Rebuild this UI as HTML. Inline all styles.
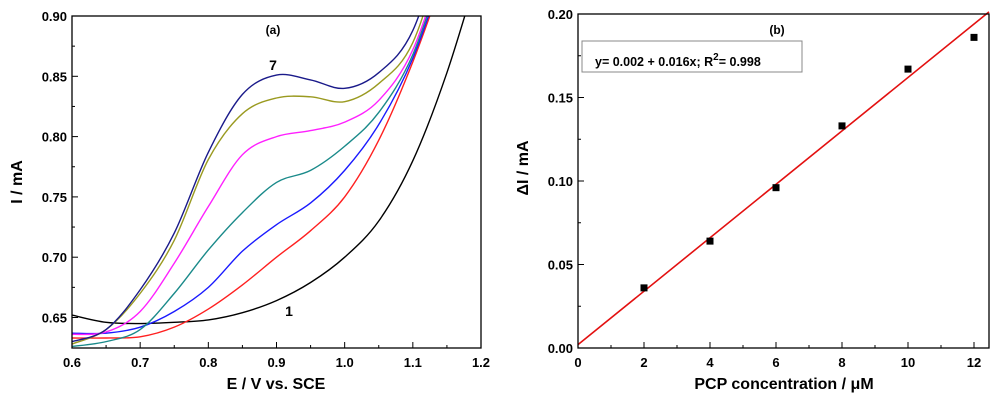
<!DOCTYPE html>
<html><head><meta charset="utf-8"><style>
body{margin:0;background:#fff}
svg{display:block;font-family:"Liberation Sans",Arial,sans-serif;font-weight:bold}
</style></head><body>
<svg id="chart" width="1000" height="404" viewBox="0 0 1000 404">
<g id="pa"></g>
<g id="pb"></g>
</svg>
<script>
// Panel A data
const aX = [0.6,0.65,0.7,0.75,0.8,0.85,0.9,0.95,1.0,1.05,1.1,1.15,1.2];
const curve1 = [0.652,0.646,0.645,0.646,0.648,0.654,0.664,0.679,0.700,0.730,0.780,0.853,0.945];
const curve2 = [0.633,0.633,0.634,0.642,0.657,0.677,0.700,0.722,0.750,0.797,0.862,0.94,1.02];
const curve3 = [0.637,0.637,0.642,0.655,0.675,0.705,0.727,0.745,0.772,0.81,0.865,0.945,1.03];
const curve4 = [0.626,0.630,0.640,0.670,0.706,0.737,0.762,0.772,0.792,0.82,0.868,0.95,1.03];
const curve5 = [0.636,0.638,0.655,0.695,0.742,0.785,0.800,0.805,0.812,0.83,0.872,0.955,1.04];
const curve6 = [0.628,0.640,0.670,0.714,0.781,0.819,0.832,0.833,0.829,0.844,0.878,0.965,1.05];
const curve7 = [0.630,0.640,0.673,0.72,0.787,0.835,0.851,0.847,0.840,0.853,0.888,0.975,1.06];
const curveColors = ["#000000","#ff2020","#1a1aff","#1a8a8a","#ff20ff","#9a9a20","#1a1a8a"];
const aXTicks = ["0.6","0.7","0.8","0.9","1.0","1.1","1.2"];
const aYTicks = ["0.65","0.70","0.75","0.80","0.85","0.90"];
// Panel B data
const bX = [2,4,6,8,10,12];
const bY = [0.036,0.064,0.096,0.133,0.167,0.186];
const fitIntercept = 0.002, fitSlope = 0.016;
const bXTicks = ["0","2","4","6","8","10","12"];
const bYTicks = ["0.00","0.05","0.10","0.15","0.20"];

const NS="http://www.w3.org/2000/svg";
function mk(p,t,a,txt){const e=document.createElementNS(NS,t);for(const k in a)e.setAttribute(k,a[k]);if(txt!==undefined)e.textContent=txt;p.appendChild(e);return e;}
function smooth(pts){let d="M"+pts[0][0]+","+pts[0][1];for(let i=0;i<pts.length-1;i++){const p0=pts[i-1]||pts[i],p1=pts[i],p2=pts[i+1],p3=pts[i+2]||p2;d+=" C"+(p1[0]+(p2[0]-p0[0])/6)+","+(p1[1]+(p2[1]-p0[1])/6)+" "+(p2[0]-(p3[0]-p1[0])/6)+","+(p2[1]-(p3[1]-p1[1])/6)+" "+p2[0]+","+p2[1];}return d;}

// ---- Panel A ----
const A=document.getElementById('pa');
const aL=72,aR=481,aT=16,aB=348;
const ax=v=>aL+(v-0.6)/0.6*(aR-aL);
const ay=v=>aT+(0.9-v)/0.05*60.3;
const clipA=mk(A,'clipPath',{id:'ca'});mk(clipA,'rect',{x:aL,y:aT,width:aR-aL,height:aB-aT});
const curves=[curve1,curve2,curve3,curve4,curve5,curve6,curve7];
const cg=mk(A,'g',{'clip-path':'url(#ca)'});
curves.forEach((c,i)=>{
  const pts=aX.map((x,j)=>[ax(x),ay(c[j])]);
  const p=mk(cg,'path',{d:smooth(pts),fill:'none',stroke:curveColors[i],'stroke-width':1.4});
  
  
});
const fa=mk(A,'rect',{x:aL,y:aT,width:aR-aL,height:aB-aT,fill:'none',stroke:'#000','stroke-width':1.3});

aXTicks.forEach(t=>{const x=ax(+t);mk(A,'line',{x1:x,y1:aB,x2:x,y2:aB-6,stroke:'#000'});
 const tx=mk(A,'text',{x:x,y:aB+19,'text-anchor':'middle','font-size':13},t);
 if(+t<1.2){const xm=ax(+t+0.05);mk(A,'line',{x1:xm,y1:aB,x2:xm,y2:aB-3,stroke:'#000'});}});
aYTicks.forEach(t=>{const y=ay(+t);mk(A,'line',{x1:aL,y1:y,x2:aL+6,y2:y,stroke:'#000'});
 const tx=mk(A,'text',{x:aL-5,y:y+5,'text-anchor':'end','font-size':13},t);
 if(+t<0.9){const ym=ay(+t+0.025);mk(A,'line',{x1:aL,y1:ym,x2:aL+3,y2:ym,stroke:'#000'});}});
let e;
e=mk(A,'text',{x:276,y:389,'text-anchor':'middle','font-size':16},'E / V vs. SCE');
e=mk(A,'text',{x:0,y:0,'text-anchor':'middle','font-size':16,transform:'translate(22,182) rotate(-90)'},'I / mA');
e=mk(A,'text',{x:273,y:34,'text-anchor':'middle','font-size':12},'(a)');
e=mk(A,'text',{x:273,y:70,'text-anchor':'middle','font-size':14},'7');
e=mk(A,'text',{x:289,y:316,'text-anchor':'middle','font-size':14},'1');

// ---- Panel B ----
const B=document.getElementById('pb');
const bL=578,bR=989,bT=14,bB=348;
const bx=v=>bL+v*33;
const by=v=>bB-v/0.2*(bB-bT);
const xEnd=(bR-bL)/33;
e=mk(B,'line',{x1:bx(0),y1:by(fitIntercept),x2:bx(xEnd),y2:by(fitIntercept+fitSlope*xEnd),stroke:'#e31010','stroke-width':1.6});

bX.forEach((x,i)=>{const p=mk(B,'rect',{x:bx(x)-3.5,y:by(bY[i])-3.5,width:7,height:7,fill:'#000'});
 });
e=mk(B,'rect',{x:bL,y:bT,width:bR-bL,height:bB-bT,fill:'none',stroke:'#000','stroke-width':1.3});
bXTicks.forEach(t=>{const x=bx(+t);mk(B,'line',{x1:x,y1:bB,x2:x,y2:bB-6,stroke:'#000'});
 const tx=mk(B,'text',{x:x,y:bB+19,'text-anchor':'middle','font-size':13},t);
 const xm=bx(+t+1);if(xm<bR)mk(B,'line',{x1:xm,y1:bB,x2:xm,y2:bB-3,stroke:'#000'});});
bYTicks.forEach(t=>{const y=by(+t);mk(B,'line',{x1:bL,y1:y,x2:bL+6,y2:y,stroke:'#000'});
 const tx=mk(B,'text',{x:bL-5,y:y+5,'text-anchor':'end','font-size':13},t);
 if(+t<0.2){const ym=by(+t+0.025);mk(B,'line',{x1:bL,y1:ym,x2:bL+3,y2:ym,stroke:'#000'});}});
e=mk(B,'rect',{x:582,y:41,width:220,height:31,fill:'#fff',stroke:'#888','stroke-width':1});
e=mk(B,'text',{x:595,y:66,'font-size':12.5});
e.innerHTML='y= 0.002 + 0.016x; R<tspan dy="-6" font-size="10">2</tspan><tspan dy="6">= 0.998</tspan>';
e=mk(B,'text',{x:777,y:34,'text-anchor':'middle','font-size':12},'(b)');
e=mk(B,'text',{x:784,y:389,'text-anchor':'middle','font-size':16},'PCP concentration / μM');
e=mk(B,'text',{x:0,y:0,'text-anchor':'middle','font-size':16,transform:'translate(528,168) rotate(-90)'},'ΔI / mA');
</script>
</body></html>
